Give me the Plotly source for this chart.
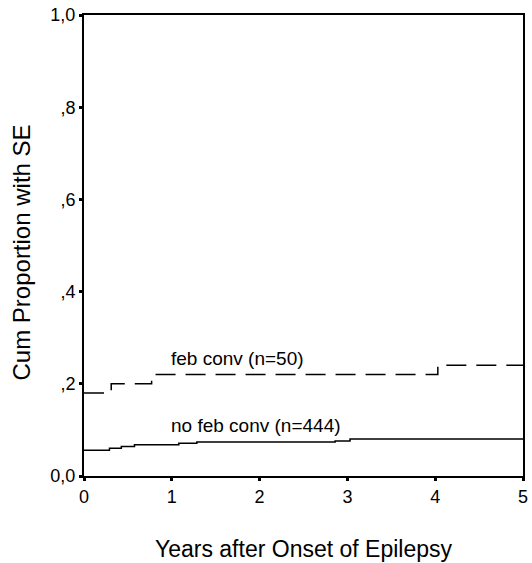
import plotly.graph_objects as go

# Step-function data (Kaplan-Meier style cumulative proportion)
feb_t = [0, 0.31, 0.31, 0.77, 0.77, 4.03, 4.03, 5.0]
feb_y = [0.18, 0.18, 0.20, 0.20, 0.22, 0.22, 0.24, 0.24]

nofeb_steps_t = [0, 0.29, 0.425, 0.575, 1.08, 1.285, 2.86, 3.03, 5.0]
nofeb_steps_y = [0.056, 0.060, 0.064, 0.068, 0.071, 0.074, 0.076, 0.080, 0.080]

y_ticks = [0.0, 0.2, 0.4, 0.6, 0.8, 1.0]
y_tick_labels = ["0,0", ",2", ",4", ",6", ",8", "1,0"]
x_ticks = [0, 1, 2, 3, 4, 5]

label_feb = "feb conv (n=50)"
label_nofeb = "no feb conv (n=444)"
y_title = "Cum Proportion with SE"
x_title = "Years after Onset of Epilepsy"

FONT = "Liberation Sans, Arial, sans-serif"

fig = go.Figure()
fig.add_trace(go.Scatter(x=feb_t, y=feb_y, mode="lines",
                         line=dict(color="black", width=1.5, dash="20px,10px"),
                         showlegend=False, hoverinfo="skip"))
fig.add_trace(go.Scatter(x=nofeb_steps_t, y=nofeb_steps_y, mode="lines",
                         line=dict(color="black", width=1.5, shape="hv"),
                         showlegend=False, hoverinfo="skip"))

fig.add_annotation(x=1.0, y=feb_y[4], text=label_feb, showarrow=False,
                   xanchor="left", yanchor="bottom", yshift=4, xshift=-3,
                   font=dict(family=FONT, size=19, color="black"))
fig.add_annotation(x=1.0, y=nofeb_steps_y[5], text=label_nofeb, showarrow=False,
                   xanchor="left", yanchor="bottom", yshift=4, xshift=-3,
                   font=dict(family=FONT, size=19, color="black"))

# y-axis title placed as rotated annotation to match reference position
fig.add_annotation(xref="paper", yref="paper", x=0, y=0.5, xshift=-63, yshift=-7,
                   text=y_title, textangle=-90, showarrow=False,
                   xanchor="center", yanchor="middle",
                   font=dict(family=FONT, size=24, color="black"))

fig.update_layout(
    width=532, height=563,
    margin=dict(l=84, r=4, t=15, b=87),
    plot_bgcolor="white", paper_bgcolor="white",
    font=dict(family=FONT, color="black"),
    xaxis=dict(range=[0, 5], tickvals=x_ticks, ticks="outside", ticklen=3, tickwidth=3,
               tickcolor="black", showline=True, linecolor="black", linewidth=2,
               mirror=True, showgrid=False, zeroline=False,
               tickfont=dict(size=18),
               title=dict(text=x_title, font=dict(size=23), standoff=35)),
    yaxis=dict(range=[0, 1], tickvals=y_ticks, ticktext=y_tick_labels, ticks="outside",
               ticklen=3, tickwidth=3, tickcolor="black", showline=True, linecolor="black",
               linewidth=2, mirror=True, showgrid=False, zeroline=False,
               tickfont=dict(size=18)),
)

fig.write_html("out.html")
